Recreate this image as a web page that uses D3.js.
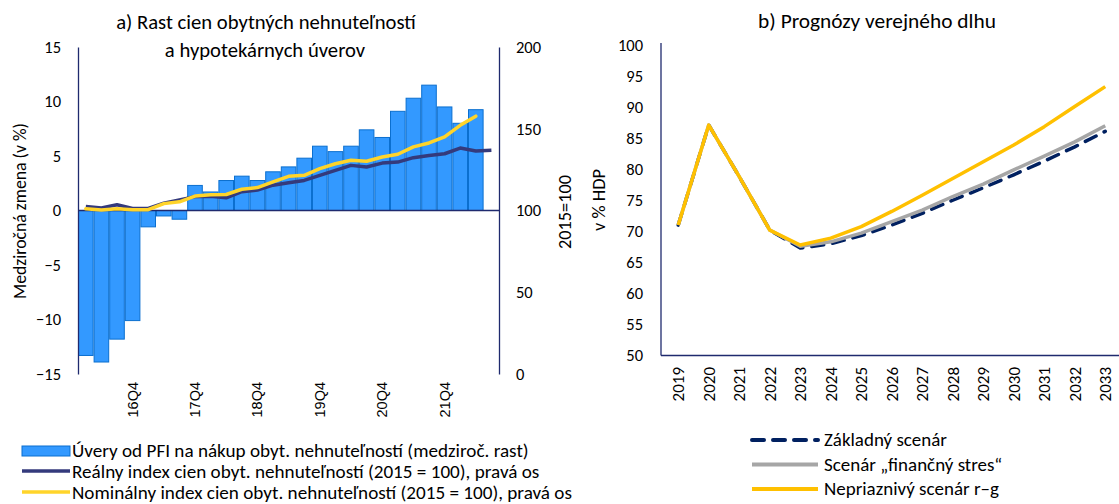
<!DOCTYPE html>
<html>
<head>
<meta charset="utf-8">
<script src="https://cdn.jsdelivr.net/npm/d3@7"></script>
<style>
  body { margin: 0; background: #fff; }
  text { font-family: Carlito, Calibri, Lato, sans-serif; fill: #000; }
  .qtick text { font-family: "Liberation Sans", Arial, sans-serif; }
</style>
</head>
<body>
<svg id="chart" width="1119" height="504"></svg>
<script>
// ---------------------- DATA ----------------------

// a) quarters 16Q1 .. 22Q3
const quarters = [
  "16Q1", "16Q2", "16Q3", "16Q4", "17Q1", "17Q2", "17Q3", "17Q4",
  "18Q1", "18Q2", "18Q3", "18Q4", "19Q1", "19Q2", "19Q3", "19Q4",
  "20Q1", "20Q2", "20Q3", "20Q4", "21Q1", "21Q2", "21Q3", "21Q4",
  "22Q1", "22Q2", "22Q3"
];
// loans for house purchase, y/y growth (%), left axis
const loanGrowth = [
  -13.3, -13.9, -11.8, -10.1, -1.5, -0.5, -0.8, 2.3,
  1.7, 2.75, 3.15, 2.75, 3.55, 4.0, 4.8, 5.9,
  5.4, 5.9, 7.4, 6.7, 9.1, 10.3, 11.5, 9.5,
  8.0, 9.25, null
];
// real house price index (2015 = 100), right axis
const realIndex = [
  102.5, 101.5, 103.5, 101.3, 101.3, 104.5, 106.5, 108.5,
  108.7, 107.8, 111.5, 112.5, 115.5, 117.0, 118.4, 121.5,
  124.5, 127.6, 126.6, 129.0, 129.6, 132.3, 133.7, 134.7,
  138.2, 136.4, 136.8
];
// nominal house price index (2015 = 100), right axis
const nominalIndex = [
  101.0, 100.3, 101.0, 100.5, 100.5, 104.2, 105.3, 108.8,
  109.6, 109.8, 113.0, 114.0, 117.5, 120.9, 121.5, 125.6,
  128.6, 130.7, 130.1, 132.7, 134.4, 138.9, 141.3, 145.0,
  152.1, 157.7, null
];
const leftTicks = [-15, -10, -5, 0, 5, 10, 15];
const rightTicks = [0, 50, 100, 150, 200];

// b) public debt projections (% of GDP)
const years = ["2019", "2020", "2021", "2022", "2023", "2024", "2025", "2026",
  "2027", "2028", "2029", "2030", "2031", "2032", "2033"];
const baseline = [71.0, 87.1, 78.8, 70.2, 67.3, 68.0, 69.3, 71.0,
  72.9, 75.0, 77.0, 79.1, 81.3, 83.6, 86.1];
const financialStress = [71.0, 87.1, 78.8, 70.2, 67.6, 68.3, 69.7, 71.55,
  73.4, 75.6, 77.6, 79.9, 82.1, 84.4, 87.0];
const adverseRG = [71.0, 87.1, 78.8, 70.2, 67.8, 68.9, 70.75, 73.2,
  75.8, 78.5, 81.2, 83.9, 86.85, 90.1, 93.3];
const debtTicks = [50, 55, 60, 65, 70, 75, 80, 85, 90, 95, 100];

// ---------------------- STYLE ----------------------
const AXIS_COLOR = "#1F2A6E";
const BAR_FILL = "#3399FF";
const BAR_STROKE = "#0B6FCF";
const REAL_COLOR = "#343A7C";
const NOMINAL_COLOR = "#FFD42A";
const BASE_COLOR = "#002060";
const STRESS_COLOR = "#A6A6A6";
const ADVERSE_COLOR = "#FFC000";

const svg = d3.select("#chart");

// scale the font so the text gets the width it has in the original (font substitute)
function fitWidth(sel, target) {
    const w = sel.node().getComputedTextLength();
    const fs = parseFloat(sel.style("font-size"));
    const size = fs * target / w;
    sel.style("font-size", size + "px");
    return size;
}

// ---------------------- PANEL A ----------------------
function renderPanelA() {
    const x = d3.scaleBand().domain(quarters).range([78, 499.2]).padding(0);
    const yL = d3.scaleLinear().domain([-15, 15]).range([374, 47]);
    const yR = d3.scaleLinear().domain([0, 200]).range([374, 47]);

    // title
    const t1 = svg.append("text").attr("x", 266).attr("y", 29)
        .attr("text-anchor", "middle").style("font-size", "16px")
        .text("a) Rast cien obytných nehnuteľností");
    const titleSize = fitWidth(t1, 300);
    svg.append("text").attr("x", 265).attr("y", 57)
        .attr("text-anchor", "middle").style("font-size", titleSize + "px")
        .text("a hypotekárnych úverov");

    // bars
    svg.append("g").selectAll("rect")
        .data(quarters.map((q, i) => ({q, v: loanGrowth[i]})).filter(d => d.v !== null))
        .enter().append("rect")
        .attr("x", d => x(d.q) + 0.5)
        .attr("width", x.bandwidth() - 1)
        .attr("y", d => yL(Math.max(0, d.v)))
        .attr("height", d => Math.abs(yL(d.v) - yL(0)))
        .attr("fill", BAR_FILL)
        .attr("stroke", BAR_STROKE)
        .attr("stroke-width", 1);

    // left axis
    const left = svg.append("g")
        .attr("transform", "translate(78,0)")
        .call(d3.axisLeft(yL).tickValues(leftTicks).tickSize(0).tickPadding(17));
    left.select(".domain").attr("stroke", AXIS_COLOR).attr("stroke-width", 1.3);
    left.selectAll("text").style("font-size", "16.5px").style("font-family", "Carlito, Calibri, Lato, sans-serif");

    // right axis
    const right = svg.append("g")
        .attr("transform", "translate(499,0)")
        .call(d3.axisRight(yR).tickValues(rightTicks).tickSize(0).tickPadding(17));
    right.select(".domain").attr("stroke", AXIS_COLOR).attr("stroke-width", 1.3);
    right.selectAll("text").style("font-size", "16.5px").style("font-family", "Carlito, Calibri, Lato, sans-serif");

    // zero line
    svg.append("line")
        .attr("x1", 78).attr("x2", 499)
        .attr("y1", yL(0)).attr("y2", yL(0))
        .attr("stroke", AXIS_COLOR).attr("stroke-width", 1.3);

    // quarter labels (only Q4)
    const bottom = svg.append("g")
        .attr("class", "qtick")
        .attr("transform", "translate(0,382)")
        .call(d3.axisBottom(x).tickValues(quarters.filter(q => q.endsWith("Q4"))).tickSize(0).tickPadding(0));
    bottom.select(".domain").remove();
    bottom.selectAll("text")
        .style("font-size", "14.5px")
        .attr("text-anchor", "end")
        .attr("transform", "rotate(-90)")
        .attr("x", 0).attr("y", 0).attr("dy", "0.35em");

    // index lines
    const line = yScale => d3.line()
        .defined(d => d.v !== null)
        .x(d => x(d.q) + x.bandwidth() / 2)
        .y(d => yScale(d.v));

    svg.append("path")
        .datum(quarters.map((q, i) => ({q, v: realIndex[i]})))
        .attr("d", line(yR))
        .attr("fill", "none").attr("stroke", REAL_COLOR)
        .attr("stroke-width", 3.5).attr("stroke-linejoin", "round");

    svg.append("path")
        .datum(quarters.map((q, i) => ({q, v: nominalIndex[i]})))
        .attr("d", line(yR))
        .attr("fill", "none").attr("stroke", NOMINAL_COLOR)
        .attr("stroke-width", 3.5).attr("stroke-linejoin", "round").attr("stroke-linecap", "round");

    // axis titles
    const yt = svg.append("text")
        .attr("transform", "translate(26,211) rotate(-90)")
        .attr("text-anchor", "middle")
        .style("font-size", "16px")
        .text("Medziročná zmena (v %)");
    fitWidth(yt, 176);
    const rt = svg.append("text")
        .attr("transform", "translate(571,212) rotate(-90)")
        .attr("text-anchor", "middle")
        .style("font-size", "16px")
        .text("2015=100");
    fitWidth(rt, 74);

    // legend
    const lg = svg.append("g");
    lg.append("rect").attr("x", 22).attr("y", 446).attr("width", 48).attr("height", 10)
        .attr("fill", BAR_FILL).attr("stroke", BAR_STROKE);
    lg.append("line").attr("x1", 22).attr("x2", 70).attr("y1", 471).attr("y2", 471)
        .attr("stroke", REAL_COLOR).attr("stroke-width", 3.5);
    lg.append("line").attr("x1", 22).attr("x2", 70).attr("y1", 492).attr("y2", 492)
        .attr("stroke", NOMINAL_COLOR).attr("stroke-width", 3.5);
    const legendTexts = [
        "Úvery od PFI na nákup obyt. nehnuteľností (medziroč. rast)",
        "Reálny index cien obyt. nehnuteľností (2015 = 100), pravá os",
        "Nominálny index cien obyt. nehnuteľností (2015 = 100), pravá os"
    ];
    const items = lg.selectAll("text.lt").data(legendTexts).enter().append("text")
        .attr("class", "lt")
        .attr("x", 72).attr("y", (d, i) => 457 + i * 20.8)
        .style("font-size", "16px")
        .text(d => d);
    const legendSize = fitWidth(d3.select(items.nodes()[0]), 457);
    items.style("font-size", legendSize + "px");
}

// ---------------------- PANEL B ----------------------
function renderPanelB() {
    const x = d3.scaleBand().domain(years).range([663, 1120.5]).padding(0);
    const y = d3.scaleLinear().domain([50, 100]).range([355.5, 45]);

    const tb = svg.append("text")
        .attr("x", 877).attr("y", 28)
        .attr("text-anchor", "middle")
        .style("font-size", "16px")
        .text("b) Prognózy verejného dlhu");
    fitWidth(tb, 238);

    const left = svg.append("g")
        .attr("transform", "translate(661,0)")
        .call(d3.axisLeft(y).tickValues(debtTicks).tickSize(0).tickPadding(18));
    left.select(".domain").attr("stroke", AXIS_COLOR).attr("stroke-width", 1.3)
        .attr("d", "M0,43V355.5");
    left.selectAll("text").style("font-size", "16.5px").style("font-family", "Carlito, Calibri, Lato, sans-serif");

    svg.append("line")
        .attr("x1", 661).attr("x2", 1119)
        .attr("y1", 355.5).attr("y2", 355.5)
        .attr("stroke", AXIS_COLOR).attr("stroke-width", 1.3);

    const bottom = svg.append("g")
        .attr("transform", "translate(0,367)")
        .call(d3.axisBottom(x).tickSize(0).tickPadding(0));
    bottom.select(".domain").remove();
    bottom.selectAll("text")
        .style("font-size", "17px")
        .style("font-family", "Carlito, Calibri, Lato, sans-serif")
        .attr("text-anchor", "end")
        .attr("transform", "rotate(-90)")
        .attr("x", 0).attr("y", 0).attr("dy", "0.35em");

    const vt = svg.append("text")
        .attr("transform", "translate(605,200) rotate(-90)")
        .attr("text-anchor", "middle")
        .style("font-size", "16px")
        .text("v % HDP");
    fitWidth(vt, 62);

    const line = d3.line()
        .x((d, i) => x(years[i]) + x.bandwidth() / 2)
        .y(d => y(d));

    const series = [
        {values: baseline, color: BASE_COLOR, dash: "12,9"},
        {values: financialStress, color: STRESS_COLOR, dash: null},
        {values: adverseRG, color: ADVERSE_COLOR, dash: null}
    ];
    series.forEach(s => {
        svg.append("path")
            .datum(s.values)
            .attr("d", line)
            .attr("fill", "none")
            .attr("stroke", s.color)
            .attr("stroke-width", 3.5)
            .attr("stroke-linejoin", "round")
            .attr("stroke-linecap", s.dash ? "round" : "butt")
            .attr("stroke-dasharray", s.dash);
    });

    // legend
    const legendItems = [
        {label: "Základný scenár", color: BASE_COLOR, dash: "12,9"},
        {label: "Scenár „finančný stres“", color: STRESS_COLOR, dash: null},
        {label: "Nepriaznivý scenár r–g", color: ADVERSE_COLOR, dash: null}
    ];
    const lg = svg.append("g");
    let size = null;
    legendItems.forEach((d, i) => {
        const ly = 440 + i * 24.5;
        lg.append("line")
            .attr("x1", 752).attr("x2", 818).attr("y1", ly).attr("y2", ly)
            .attr("stroke", d.color).attr("stroke-width", 4)
            .attr("stroke-linecap", d.dash ? "round" : "butt")
            .attr("stroke-dasharray", d.dash);
        const t = lg.append("text")
            .attr("x", 824).attr("y", ly + 6)
            .style("font-size", (size || 16) + "px")
            .text(d.label);
        if (i === 0) size = fitWidth(t, 123);
    });
}

renderPanelA();
renderPanelB();
</script>
</body>
</html>
